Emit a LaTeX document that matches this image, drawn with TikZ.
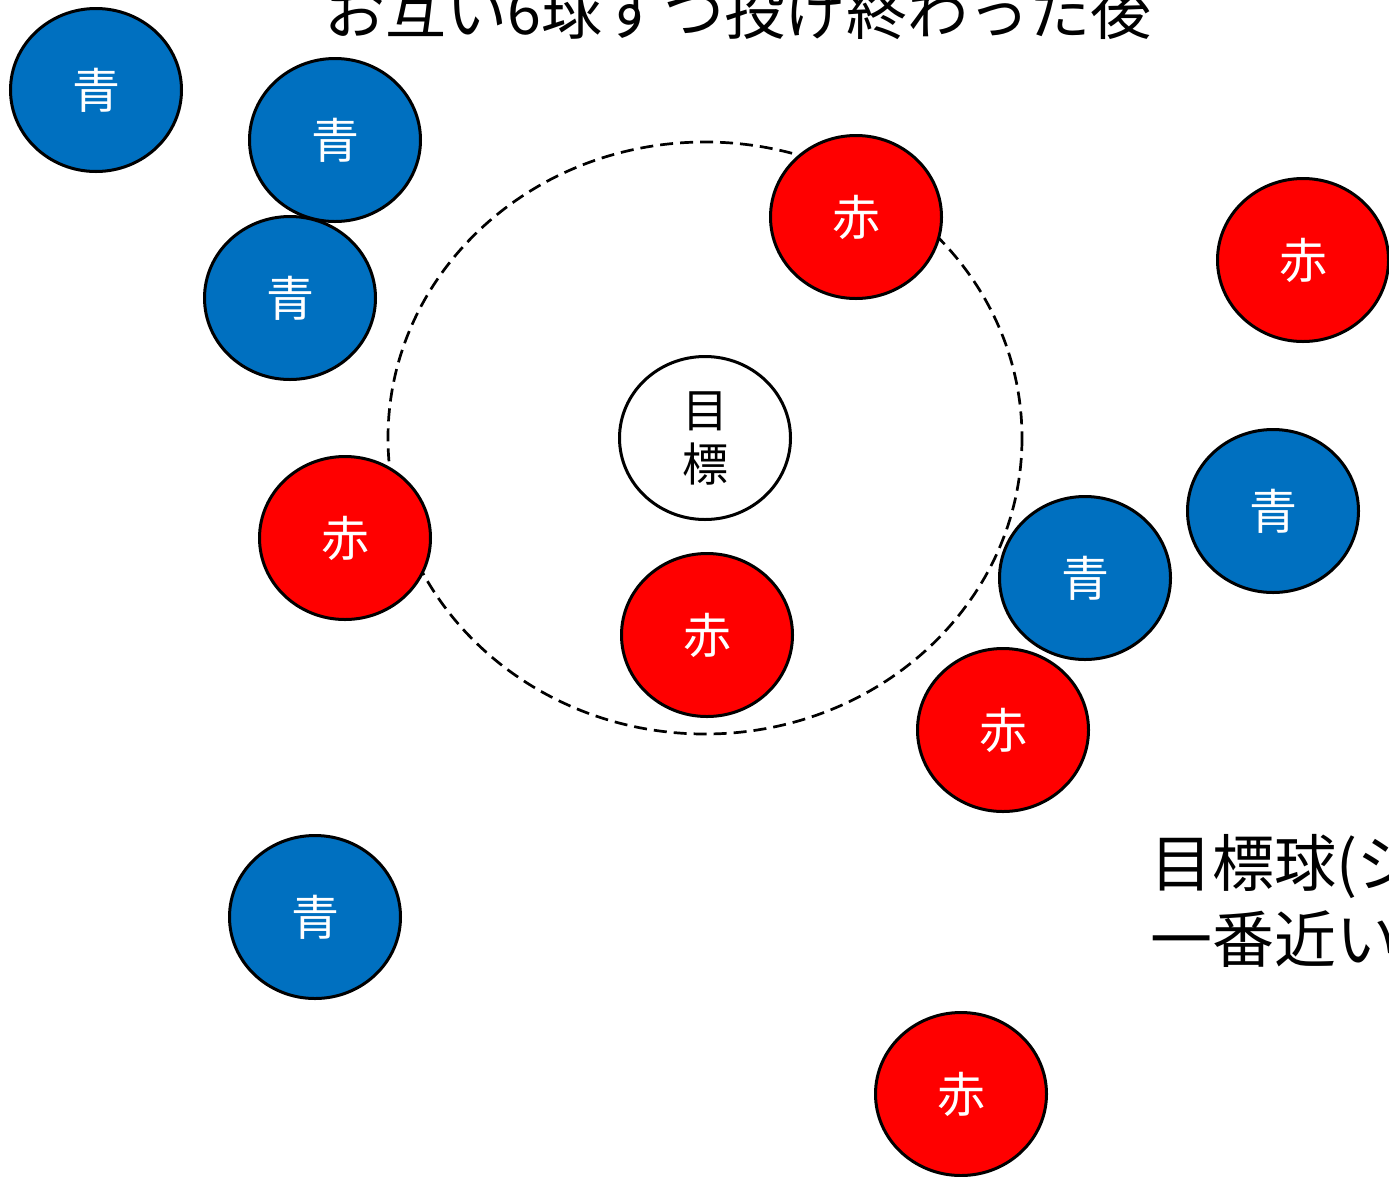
\documentclass[tikz,border=0pt]{standalone}
\usepackage{fontspec}
\setmainfont{Noto Sans CJK JP}
\definecolor{ballblue}{HTML}{0070C0}
\definecolor{ballred}{HTML}{FF0000}
\begin{document}
\begin{tikzpicture}[x=1pt,y=-1pt,
  bluebal/.style={draw=black,line width=3pt,fill=ballblue},
  redbal/.style={draw=black,line width=3pt,fill=ballred},
  balltext/.style={text=white,font=\fontsize{48}{52}\selectfont,inner sep=0pt}]
\useasboundingbox (0,0) rectangle (1389,1176);
\clip (0,0) rectangle (1389,1176);
% zone
\coordinate (zc) at (705,438);
\draw[line width=2.7pt,dash pattern=on 13pt off 7pt] (zc) ellipse [x radius=317,y radius=296];
% title
\node[anchor=base west,font=\fontsize{61}{64}\selectfont,inner sep=0pt] (title) at (324,34) {お互い6球ずつ投げ終わった後};
% caption
\node[anchor=base west,font=\fontsize{62}{66}\selectfont,inner sep=0pt] (cap1) at (1150,886) {目標球(ジャック)に};
\node[anchor=base west,font=\fontsize{62}{66}\selectfont,inner sep=0pt] (cap2) at (1150,962) {一番近いボール};
% balls
\newcommand{\ballat}[4]{%
  \filldraw[#1] (#2) ellipse [x radius=85.5,y radius=81.5];
  \node[balltext] (#3) at (#2) {#4};}
\ballat{bluebal}{96,90}{b1}{青}
\ballat{bluebal}{335,140}{b2}{青}
\ballat{bluebal}{290,298}{b3}{青}
\ballat{redbal}{856,217}{r1}{赤}
\ballat{redbal}{1303,260}{r2}{赤}
\ballat{redbal}{345,538}{r3}{赤}
\ballat{redbal}{707,635}{r4}{赤}
\ballat{bluebal}{1273,511}{b4}{青}
\ballat{bluebal}{1085,578}{b5}{青}
\ballat{redbal}{1003,730}{r5}{赤}
\ballat{bluebal}{315,917}{b6}{青}
\ballat{redbal}{961,1094}{r6}{赤}
% target
\filldraw[draw=black,line width=3pt,fill=white] (zc) ellipse [x radius=85.5,y radius=81.5];
\node[align=center,font=\fontsize{46}{54}\selectfont,inner sep=0pt] (tgt) at (zc) {目\\標};
\end{tikzpicture}
\end{document}
